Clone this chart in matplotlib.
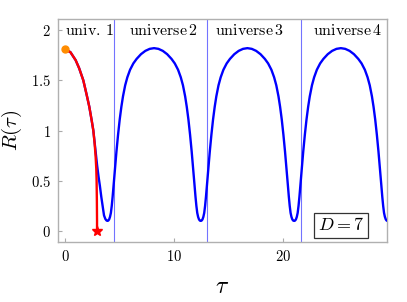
import numpy as np
import matplotlib
matplotlib.use("Agg")
import matplotlib.pyplot as plt

plt.rcParams['mathtext.fontset'] = 'cm'
plt.rcParams['font.family'] = ['DejaVu Serif']

# red branch (classical collapse)
red_tau = [0, 0.5, 0.98, 1.3, 1.68, 2.0, 2.23, 2.45, 2.6, 2.72, 2.81, 2.87, 2.9, 2.925, 2.94, 2.94]
red_R = [1.81, 1.78, 1.70, 1.62, 1.50, 1.35, 1.237, 1.10, 1.0, 0.87, 0.74, 0.62, 0.5, 0.3, 0.1, 0.0]

# blue curve, first universe (tau = 0 down to the first bounce)
blue_first_tau = [0, 0.5, 0.98, 1.3, 1.68, 2.0, 2.23, 2.45, 2.6, 2.72, 2.82, 2.95, 3.08, 3.2,
                  3.33, 3.45, 3.58, 3.7, 3.8, 3.88]
blue_first_R = [1.81, 1.78, 1.70, 1.62, 1.50, 1.35, 1.237, 1.10, 1.0, 0.88, 0.78, 0.65, 0.54, 0.45,
                0.34, 0.25, 0.155, 0.12, 0.105, 0.10]

# one hump of the later universes: distance from the maximum vs R
hump_d = [0.0, 0.4, 0.8, 1.2, 1.6, 1.9, 2.2, 2.45, 2.65, 2.85, 3.0, 3.15, 3.3, 3.45, 3.58,
          3.7, 3.8, 3.88, 3.96, 4.04, 4.12, 4.2, 4.28]
hump_R = [1.82, 1.813, 1.793, 1.76, 1.713, 1.668, 1.605, 1.53, 1.45, 1.34, 1.235, 1.11, 0.96,
          0.79, 0.63, 0.47, 0.34, 0.25, 0.18, 0.14, 0.115, 0.103, 0.10]
hump_peaks = [8.17, 16.73, 25.3]

bounce_lines = [4.52, 13.06, 21.6]
labels = [r'$\mathrm{univ.}\,1$', r'$\mathrm{universe}\,2$', r'$\mathrm{universe}\,3$', r'$\mathrm{universe}\,4$']
label_tau = [2.2, 9.0, 16.9, 25.9]

fig = plt.figure(figsize=(4.07, 3.02), dpi=100)
ax = fig.add_axes([0.1425, 0.1987, 0.8075, 0.7383])

# assemble the blue curve
d = np.array(hump_d)
r = np.array(hump_R)
bt = [np.array(blue_first_tau)]
br = [np.array(blue_first_R)]
for p in hump_peaks:
    bt.append(np.concatenate([p - d[::-1], p + d[1:]]))
    br.append(np.concatenate([r[::-1], r[1:]]))
ax.plot(np.concatenate(bt), np.concatenate(br), color='#0000ff', lw=1.7, zorder=3)

for x in bounce_lines:
    ax.axvline(x, color='#5a5aff', lw=0.8, alpha=0.85, zorder=2)

ax.plot(red_tau, red_R, color='#ff0000', lw=1.7, zorder=4)
ax.plot([red_tau[-1]], [red_R[-1]], marker='*', color='#ff0000', ms=7, zorder=5, clip_on=False)
ax.plot([red_tau[0]], [red_R[0]], marker='o', color='#ff8c00', ms=5, zorder=5, clip_on=False)

for t, s in zip(label_tau, labels):
    ax.text(t, 2.0, s, ha='center', va='center', fontsize=11.5)

ax.text(0.861, 0.075, r'$D=7$', transform=ax.transAxes, ha='center', va='center', fontsize=13,
        bbox=dict(boxstyle='square,pad=0.2', fc='white', ec='#333333', lw=0.9))

ax.set_xlim(-0.64, 29.5)
ax.set_ylim(-0.11, 2.11)
ax.set_xticks([0, 10, 20])
ax.set_xticklabels([r'$0$', r'$10$', r'$20$'])
ax.set_yticks([0, 0.5, 1, 1.5, 2])
ax.set_yticklabels([r'$0$', r'$0.5$', r'$1$', r'$1.5$', r'$2$'])
ax.tick_params(direction='in', length=3, color='#aaaaaa', labelsize=10.5, pad=5)
for sp in ax.spines.values():
    sp.set_color('#b0b0b0')
    sp.set_linewidth(1.0)

ax.set_xlabel(r'$\tau$', fontsize=17, labelpad=8)
ax.set_ylabel(r'$R(\tau)$', fontsize=15, labelpad=5)

fig.savefig('out.png', dpi=100)
